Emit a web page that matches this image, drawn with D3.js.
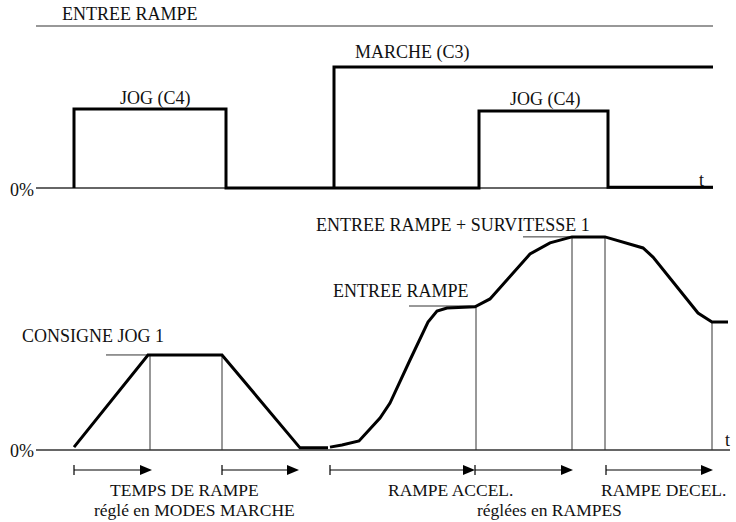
<!DOCTYPE html>
<html>
<head>
<meta charset="utf-8">
<script src="https://cdn.jsdelivr.net/npm/d3@7"></script>
<style>
  body { margin: 0; background: #fff; }
  text { font-family: "Liberation Serif", "DejaVu Serif", serif; font-size: 18px; fill: #111; }
  .signal { fill: none; stroke: #000; stroke-width: 3; stroke-linejoin: miter; }
  .axis-line { stroke: #333; stroke-width: 1.5; }
  .guide { stroke: #333; stroke-width: 1; }
  .arrow { stroke: #000; stroke-width: 1.2; }
</style>
</head>
<body>
<div id="figure-container"></div>
<script>
// time in arbitrary units, level in % of ENTREE RAMPE
var jogSignal = [[3.8, 0], [3.8, 48.8], [19, 48.8], [19, 0], [44.3, 0], [44.3, 47.5], [57.2, 47.5], [57.2, 0.5], [67.7, 0.5]];
var marcheSignal = [[29.8, 0], [29.8, 74.7], [67.7, 74.7]];

var jogRamp = [[3.8, 2], [11.2, 66], [18.6, 66], [26.4, 1.5], [29.2, 1.5]];
var mainRamp = [
  [29.4, 2], [30.6, 3.5], [32.3, 6.3], [34.4, 22.2], [35.4, 32.6], [37.4, 62.5],
  [39.2, 88.9], [40.1, 96.5], [41.1, 98.6], [43.9, 99.5], [45.4, 104.9], [49.4, 136.1],
  [51.4, 143.8], [53.6, 148], [56.9, 148], [60.7, 140.3], [61.7, 134], [66.2, 95.1],
  [67.6, 88.9], [69.2, 88.9]
];

// vertical guides [t, level]
var guides = [[11.4, 66], [18.6, 66], [44, 100], [53.6, 148], [56.9, 148], [67.6, 88.9]];
// horizontal reference stubs [t0, t1, level]
var refLines = [[7, 11.2, 66], [37.3, 44, 100], [48.7, 53.6, 148]];
// ramp time arrows [t0, t1]
var arrows = [[3.8, 11.6], [18.6, 26.3], [29.4, 43.9], [43.9, 53.7], [57, 67.7]];

var labels = [
  {text: 'ENTREE RAMPE', x: 62, y: 20},
  {text: '0%', x: 10, y: 196},
  {text: 'MARCHE (C3)', x: 355, y: 58},
  {text: 'JOG (C4)', x: 120, y: 104},
  {text: 'JOG (C4)', x: 510, y: 105},
  {text: 't', x: 699, y: 186},
  {text: 'ENTREE RAMPE + SURVITESSE 1', x: 316, y: 231},
  {text: 'ENTREE RAMPE', x: 333, y: 297},
  {text: 'CONSIGNE JOG 1', x: 22, y: 342},
  {text: '0%', x: 10, y: 457},
  {text: 't', x: 725, y: 446}
];
// two-line captions under the arrows, set a bit smaller
var captions = [
  {text: 'TEMPS DE RAMPE', x: 110, y: 496},
  {text: 'réglé en MODES MARCHE', x: 94, y: 516},
  {text: 'RAMPE ACCEL.', x: 388, y: 496},
  {text: 'RAMPE DECEL.', x: 601, y: 496},
  {text: 'réglées en RAMPES', x: 477, y: 516}
];

var width = 736;
var height = 522;

var xScale = d3.scaleLinear()
  .domain([0, 70])
  .range([36, 736]);

var yTop = d3.scaleLinear()
  .domain([0, 100])
  .range([188, 26]);

var yBot = d3.scaleLinear()
  .domain([0, 100])
  .range([450, 306]);

var svg = d3.select('#figure-container')
  .append('svg')
  .attr('width', width)
  .attr('height', height);

var topLine = d3.line()
  .x(d => xScale(d[0]))
  .y(d => yTop(d[1]));

var botLine = d3.line()
  .x(d => xScale(d[0]))
  .y(d => yBot(d[1]));

// top panel axes
svg.append('line')
  .attr('class', 'axis-line')
  .attr('x1', xScale(0)).attr('x2', xScale(67.7))
  .attr('y1', yTop(100)).attr('y2', yTop(100))
  .style('stroke-width', 1.2);

svg.append('line')
  .attr('class', 'axis-line')
  .attr('x1', xScale(0)).attr('x2', xScale(67.7))
  .attr('y1', yTop(0)).attr('y2', yTop(0));

svg.append('path')
  .attr('class', 'signal')
  .attr('d', topLine(jogSignal));

svg.append('path')
  .attr('class', 'signal')
  .attr('d', topLine(marcheSignal));

// bottom panel
svg.append('line')
  .attr('class', 'axis-line')
  .attr('x1', xScale(0)).attr('x2', xScale(69.4))
  .attr('y1', yBot(0)).attr('y2', yBot(0));

svg.selectAll('.guide')
  .data(guides)
  .enter()
    .append('line')
    .attr('class', 'guide')
    .attr('x1', d => xScale(d[0])).attr('x2', d => xScale(d[0]))
    .attr('y1', d => yBot(d[1])).attr('y2', yBot(0));

svg.selectAll('.ref')
  .data(refLines)
  .enter()
    .append('line')
    .attr('class', 'guide ref')
    .attr('x1', d => xScale(d[0])).attr('x2', d => xScale(d[1]))
    .attr('y1', d => yBot(d[2])).attr('y2', d => yBot(d[2]));

svg.append('path')
  .attr('class', 'signal')
  .attr('d', botLine(jogRamp));

svg.append('path')
  .attr('class', 'signal')
  .attr('d', botLine(mainRamp));

// arrows
var arrowY = 470;
var arrowG = svg.selectAll('.arr')
  .data(arrows)
  .enter()
    .append('g')
    .attr('class', 'arr');

arrowG.append('line')
  .attr('class', 'arrow')
  .attr('x1', d => xScale(d[0])).attr('x2', d => xScale(d[1]) - 6)
  .attr('y1', arrowY).attr('y2', arrowY);

arrowG.append('line')
  .attr('class', 'arrow')
  .attr('x1', d => xScale(d[0])).attr('x2', d => xScale(d[0]))
  .attr('y1', arrowY - 5).attr('y2', arrowY + 5);

arrowG.append('path')
  .attr('d', d => {
    var x = xScale(d[1]);
    return `M${x},${arrowY} L${x - 12},${arrowY - 5} L${x - 12},${arrowY + 5} Z`;
  })
  .attr('fill', '#000');

svg.selectAll('.label')
  .data(labels)
  .enter()
    .append('text')
    .attr('class', 'label')
    .attr('x', d => d.x)
    .attr('y', d => d.y)
    .text(d => d.text);

svg.selectAll('.caption')
  .data(captions)
  .enter()
    .append('text')
    .attr('class', 'caption')
    .attr('x', d => d.x)
    .attr('y', d => d.y)
    .style('font-size', '17.5px')
    .text(d => d.text);
</script>
</body>
</html>
